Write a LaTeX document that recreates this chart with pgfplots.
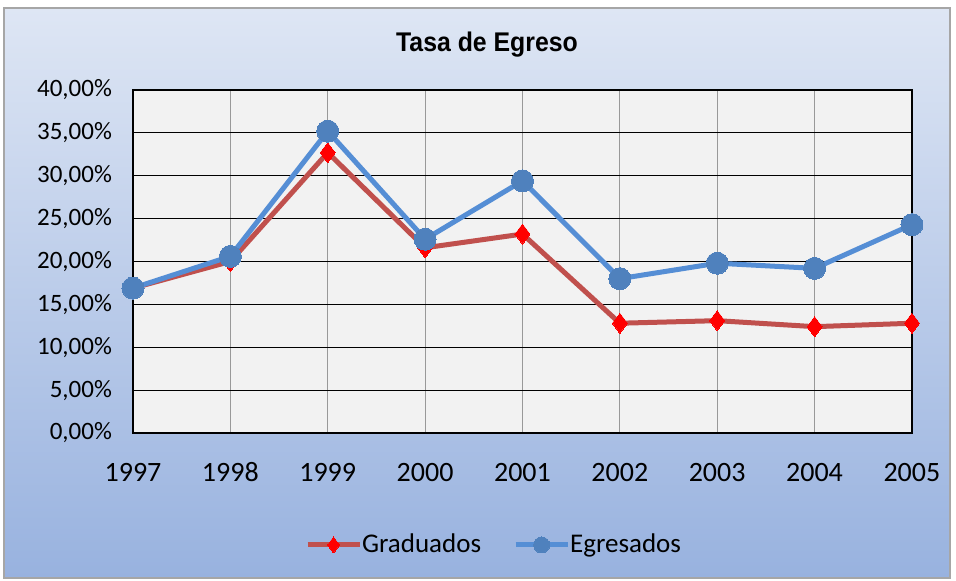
\documentclass[border=0pt]{standalone}
\usepackage{pgfplots}
\pgfplotsset{compat=1.18}
\usepackage{fontspec}
\setmainfont{Carlito}
\newfontfamily\titlefont{Liberation Sans}
\definecolor{bgtop}{HTML}{DEE6F4}
\definecolor{bgbot}{HTML}{98B2DF}
\definecolor{gradline}{HTML}{C0504D}
\definecolor{egrline}{HTML}{558ED5}
\definecolor{egrmark}{HTML}{4F81BD}
\definecolor{plotbg}{HTML}{F2F2F2}
\begin{document}
\begin{tikzpicture}
\useasboundingbox (-66.5pt,-74pt) rectangle (411.5pt,216.5pt);
\fill[white] (-66.5pt,-74pt) rectangle (411.5pt,216.5pt);
\shade[top color=bgtop, bottom color=bgbot] (-64.5pt,-72.5pt) rectangle (408.5pt,212.5pt);
\draw[gray!70, line width=0.8pt] (-64.5pt,-72.5pt) rectangle (408.5pt,212.5pt);
\node[font=\titlefont\bfseries\fontsize{13.5}{15}\selectfont, xscale=0.92] at (177pt,194pt) {Tasa de Egreso};
\begin{axis}[
  at={(0pt,0pt)}, anchor=south west,
  scale only axis, width=389.5pt, height=171.5pt,
  xmin=1997, xmax=2005, ymin=0, ymax=40,
  xtick={1997,...,2005},
  ytick={0,5,...,40},
  xticklabel style={/pgf/number format/1000 sep={}, font=\fontsize{14}{16}\selectfont,
    text height=1.6ex, text depth=0pt, yshift=-13pt},
  yticklabel style={font=\fontsize{12.5}{14}\selectfont, xshift=-7pt},
  yticklabel={\pgfmathprintnumber[fixed,fixed zerofill,precision=2,use comma]{\tick}\%},
  /pgf/number format/assume math mode=true,
  axis background/.style={fill=plotbg},
  grid=major,
  x grid style={gray!80, line width=0.5pt},
  y grid style={black, line width=0.5pt},
  axis line style={black, line width=0.6pt},
  major tick length=0pt,
  clip=false,
  legend style={at={(181pt,-56pt)}, anchor=center, draw=none, fill=none,
    legend columns=2, font=\fontsize{13.5}{15}\selectfont,
    /tikz/every even column/.append style={column sep=14pt},
    /tikz/every odd column/.append style={column sep=-2pt}},
  legend image code/.code={\draw[mark repeat=2,mark phase=2, mark size=4pt] plot coordinates {(0pt,0pt)(13pt,0pt)(26pt,0pt)};},
  legend cell align=left,
]
\addplot[gradline, line width=2.5pt, mark=diamond*, mark size=5pt,
  mark options={fill=red, draw=red, line width=0pt}]
  coordinates {(1997,16.9) (1998,20.0) (1999,32.7) (2000,21.6) (2001,23.2)
               (2002,12.8) (2003,13.1) (2004,12.4) (2005,12.8)};
\addlegendentry{Graduados}
\addplot[egrline, line width=2.5pt, mark=*, mark size=5.5pt,
  mark options={fill=egrmark, draw=egrmark, line width=0pt}]
  coordinates {(1997,16.9) (1998,20.6) (1999,35.2) (2000,22.6) (2001,29.4)
               (2002,18.0) (2003,19.8) (2004,19.2) (2005,24.3)};
\addlegendentry{Egresados}
\end{axis}
\end{tikzpicture}
\end{document}
